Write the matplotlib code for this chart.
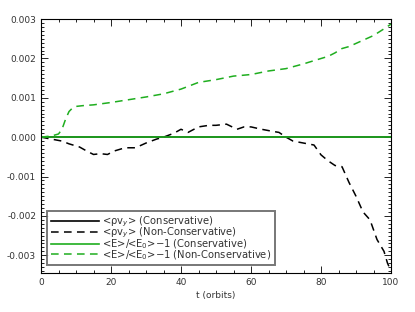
import numpy as np
import matplotlib
matplotlib.use("Agg")
import matplotlib.pyplot as plt
from matplotlib.ticker import MultipleLocator

# time (orbits)
t_mom = [0, 3, 6, 8, 11, 13, 15, 17, 19, 21, 24, 27, 30, 33, 35, 38, 40, 42, 45,
         48, 50, 53, 56, 58, 60, 63, 66, 68, 70, 72, 75, 78, 80, 82, 84, 86,
         88, 90, 92, 94, 96, 98, 99, 100]
mom_nc = [0.0, -0.00005, -0.0001, -0.00017, -0.00025, -0.00035, -0.00044, -0.00042,
          -0.00044, -0.00035, -0.00027, -0.00027, -0.00015, -0.00005, 0.0,
          0.0001, 0.0002, 0.00012, 0.00026, 0.0003, 0.0003, 0.00033, 0.0002,
          0.00026, 0.00026, 0.0002, 0.00015, 0.00012, 0.0, -0.0001, -0.00015,
          -0.0002, -0.00045, -0.0006, -0.00072, -0.00075, -0.00115, -0.0015,
          -0.0019, -0.0021, -0.0026, -0.0029, -0.0032, -0.0034]

t_en = [0, 3, 5, 6, 7, 8, 9, 10, 12, 15, 20, 25, 30, 35, 40, 45, 50, 55, 60, 65,
        70, 75, 79, 82, 84, 86, 88, 92, 95, 98, 100]
en_nc = [0.0, 0.00003, 0.00008, 0.0002, 0.00045, 0.00065, 0.00074, 0.00078,
         0.0008, 0.00082, 0.00088, 0.00095, 0.00102, 0.0011, 0.00122, 0.00139,
         0.00146, 0.00155, 0.00159, 0.00168, 0.00174, 0.00186, 0.00197, 0.00205,
         0.00214, 0.00225, 0.0023, 0.00246, 0.00258, 0.00275, 0.00287]

t_cons = [0, 100]
mom_c = [0.0, 0.0]
en_c = [0.0, 0.0]

labels = [r'<ρv$_y$> (Conservative)',
          r'<ρv$_y$> (Non-Conservative)',
          r'<E>/<E$_0$>$-$1 (Conservative)',
          r'<E>/<E$_0$>$-$1 (Non-Conservative)']

plt.rcParams['font.family'] = ['DejaVu Sans']
plt.rcParams['mathtext.fontset'] = 'dejavusans'

green = '#1fae1f'
txtcol = '#333333'

fig = plt.figure(figsize=(4.15, 3.12), dpi=100)
ax = fig.add_axes([41 / 415, 1 - 273 / 312, 350 / 415, 254 / 312])

ax.plot(t_cons, mom_c, color='black', lw=1.2, label=labels[0])
ax.plot(t_mom, mom_nc, color='black', lw=1.1, ls=(0, (5, 3.5)), label=labels[1])
ax.plot(t_cons, en_c, color=green, lw=1.2, label=labels[2])
ax.plot(t_en, en_nc, color=green, lw=1.1, ls=(0, (5, 3.5)), label=labels[3])

ax.set_xlim(0, 100)
ax.set_ylim(-0.00345, 0.003)
ax.xaxis.set_major_locator(MultipleLocator(20))
ax.xaxis.set_minor_locator(MultipleLocator(5))
ax.yaxis.set_major_locator(MultipleLocator(0.001))
ax.yaxis.set_minor_locator(MultipleLocator(0.0001))
ax.yaxis.set_major_formatter(plt.FuncFormatter(lambda v, p: '%.3f' % v))
ax.tick_params(which='both', direction='in', top=True, right=True,
               labelsize=6.5, width=0.6, colors='black', labelcolor=txtcol)
ax.tick_params(which='major', length=5)
ax.tick_params(which='minor', length=2.5)
for s in ax.spines.values():
    s.set_linewidth(0.8)

ax.set_xlabel('t (orbits)', fontsize=6.5, color=txtcol, labelpad=3)

leg = ax.legend(loc='lower left', bbox_to_anchor=(0.018, 0.031), borderaxespad=0,
                fontsize=7.2, frameon=True, fancybox=False, handlelength=4.8,
                borderpad=0.35, labelspacing=-0.3, handletextpad=0.35)
leg.get_frame().set_edgecolor('#555555')
leg.get_frame().set_linewidth(1.4)
for txt in leg.get_texts():
    txt.set_color(txtcol)

plt.savefig('out.png', dpi=100)
